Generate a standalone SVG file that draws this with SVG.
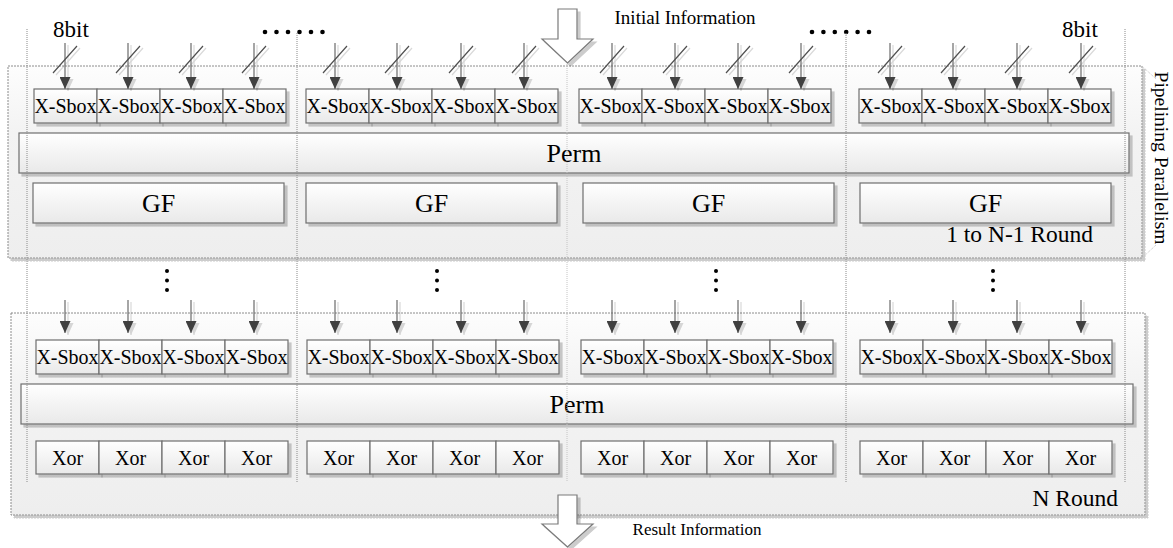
<svg xmlns="http://www.w3.org/2000/svg" width="1173" height="548" viewBox="0 0 1173 548">
  <defs>
    <linearGradient id="boxFill" x1="0" y1="0" x2="0" y2="1">
      <stop offset="0" stop-color="#ffffff"/>
      <stop offset="1" stop-color="#e9e9e9"/>
    </linearGradient>
    <linearGradient id="regionFill" x1="0" y1="0" x2="0" y2="1">
      <stop offset="0" stop-color="#fdfdfd"/>
      <stop offset="0.35" stop-color="#f3f3f3"/>
      <stop offset="1" stop-color="#eeeeee"/>
    </linearGradient>
    <filter id="shadow" x="-5%" y="-5%" width="115%" height="130%">
      <feDropShadow dx="3" dy="3" stdDeviation="0.7" flood-color="#000" flood-opacity="0.2"/>
    </filter>
    <filter id="lineShadow" x="-10%" y="-10%" width="120%" height="130%">
      <feDropShadow dx="3" dy="2" stdDeviation="0.5" flood-color="#000" flood-opacity="0.15"/>
    </filter>
    <marker id="head" viewBox="0 0 12 11" refX="12" refY="5.5" markerWidth="12" markerHeight="11" markerUnits="userSpaceOnUse" orient="auto">
      <path d="M0,0 L12,5.5 L0,11 Z" fill="#404040"/>
    </marker>
  </defs>
  <style>
    .region { fill: url(#regionFill); stroke: #8c8c8c; stroke-width: 1; stroke-dasharray: 2 1; filter: url(#shadow); }
    .box { fill: url(#boxFill); stroke: #6e6e6e; stroke-width: 1.2; filter: url(#shadow); }
    .t { font-family: "Liberation Serif", "Times New Roman", serif; fill: #000; text-anchor: middle; }
    .end { text-anchor: end; }
    .s20 { font-size: 20px; }
    .s26 { font-size: 26px; }
    .guide { stroke: #8a8a8a; stroke-width: 1; stroke-dasharray: 1 1; fill: none; }
    .guide-light { stroke: #c4c4c4; stroke-width: 1; stroke-dasharray: 1 1; fill: none; }
    .wire { stroke: #6a6a6a; stroke-width: 1.2; fill: none; marker-end: url(#head); }
    .slash { stroke: #505050; stroke-width: 1.2; fill: none; }
    .dot { fill: #000; }
    .bigarrow { fill: #ffffff; stroke: #7a7a7a; stroke-width: 1.2; filter: url(#shadow); }
  </style>

  <!-- round containers -->
  <g id="region-rounds">
    <rect class="region" x="8" y="66" width="1134" height="192"/>
    <text class="t end" x="1093" y="242" font-size="23.5">1 to N-1 Round</text>
  </g>
  <g id="region-last">
    <rect class="region" x="11" y="313" width="1134" height="202"/>
    <text class="t end" x="1118" y="506" font-size="23.5">N Round</text>
  </g>

  <!-- pipelining label with bracket -->
  <g id="pipelining">
    <path class="guide-light" d="M1142,66 L1156,79 M1142,258 L1156,245"/>
    <text class="t" font-size="19.5" transform="translate(1155,158) rotate(90)">Pipelining Parallelism</text>
  </g>

  <!-- input / output block arrows -->
  <g id="initial-information">
    <polygon class="bigarrow" points="558,9 577,9 577,39 593,39 567.5,63 542,39 558,39"/>
    <text class="t" x="685" y="24" font-size="19">Initial Information</text>
  </g>
  <g id="result-information">
    <polygon class="bigarrow" points="558,495 577,495 577,524 593,524 567.5,547 542,524 558,524"/>
    <text class="t" x="697" y="535" font-size="17">Result Information</text>
  </g>

  <!-- bit width labels and ellipses -->
  <g id="labels">
    <text class="t" x="71" y="37" font-size="23">8bit</text>
    <text class="t" x="1080" y="37" font-size="23">8bit</text>
    <g class="dot">
      <circle cx="265" cy="32" r="2.3"/><circle cx="276.5" cy="32" r="2.3"/><circle cx="288" cy="32" r="2.3"/>
      <circle cx="299.5" cy="32" r="2.3"/><circle cx="311" cy="32" r="2.3"/><circle cx="322.5" cy="32" r="2.3"/>
      <circle cx="812" cy="32" r="2.3"/><circle cx="823.4" cy="32" r="2.3"/><circle cx="834.8" cy="32" r="2.3"/>
      <circle cx="846.2" cy="32" r="2.3"/><circle cx="857.6" cy="32" r="2.3"/><circle cx="869" cy="32" r="2.3"/>
      <circle cx="167" cy="271" r="2"/><circle cx="167" cy="280.5" r="2"/><circle cx="167" cy="290" r="2"/>
      <circle cx="437" cy="271" r="2"/><circle cx="437" cy="280.5" r="2"/><circle cx="437" cy="290" r="2"/>
      <circle cx="716" cy="271" r="2"/><circle cx="716" cy="280.5" r="2"/><circle cx="716" cy="290" r="2"/>
      <circle cx="993" cy="271" r="2"/><circle cx="993" cy="280.5" r="2"/><circle cx="993" cy="290" r="2"/>
    </g>
  </g>

  <!-- rounds 1 to N-1: S-box layer -->
  <g id="sbox-a1"><rect class="box" x="34" y="89" width="63" height="34"/><text class="t s20" x="65.5" y="113">X-Sbox</text></g>
  <g id="sbox-a2"><rect class="box" x="97" y="89" width="63" height="34"/><text class="t s20" x="128.5" y="113">X-Sbox</text></g>
  <g id="sbox-a3"><rect class="box" x="160" y="89" width="63" height="34"/><text class="t s20" x="191.5" y="113">X-Sbox</text></g>
  <g id="sbox-a4"><rect class="box" x="223" y="89" width="63" height="34"/><text class="t s20" x="254.5" y="113">X-Sbox</text></g>
  <g id="sbox-a5"><rect class="box" x="306" y="89" width="63" height="34"/><text class="t s20" x="337.5" y="113">X-Sbox</text></g>
  <g id="sbox-a6"><rect class="box" x="369" y="89" width="63" height="34"/><text class="t s20" x="400.5" y="113">X-Sbox</text></g>
  <g id="sbox-a7"><rect class="box" x="432" y="89" width="63" height="34"/><text class="t s20" x="463.5" y="113">X-Sbox</text></g>
  <g id="sbox-a8"><rect class="box" x="495" y="89" width="63" height="34"/><text class="t s20" x="526.5" y="113">X-Sbox</text></g>
  <g id="sbox-a9"><rect class="box" x="579" y="89" width="63" height="34"/><text class="t s20" x="610.5" y="113">X-Sbox</text></g>
  <g id="sbox-a10"><rect class="box" x="642" y="89" width="63" height="34"/><text class="t s20" x="673.5" y="113">X-Sbox</text></g>
  <g id="sbox-a11"><rect class="box" x="705" y="89" width="63" height="34"/><text class="t s20" x="736.5" y="113">X-Sbox</text></g>
  <g id="sbox-a12"><rect class="box" x="768" y="89" width="63" height="34"/><text class="t s20" x="799.5" y="113">X-Sbox</text></g>
  <g id="sbox-a13"><rect class="box" x="859" y="89" width="63" height="34"/><text class="t s20" x="890.5" y="113">X-Sbox</text></g>
  <g id="sbox-a14"><rect class="box" x="922" y="89" width="63" height="34"/><text class="t s20" x="953.5" y="113">X-Sbox</text></g>
  <g id="sbox-a15"><rect class="box" x="985" y="89" width="63" height="34"/><text class="t s20" x="1016.5" y="113">X-Sbox</text></g>
  <g id="sbox-a16"><rect class="box" x="1048" y="89" width="63" height="34"/><text class="t s20" x="1079.5" y="113">X-Sbox</text></g>

  <!-- rounds 1 to N-1: permutation and GF layers -->
  <g id="perm-a"><rect class="box" x="19" y="133" width="1110" height="40"/><text class="t s26" x="574" y="162">Perm</text></g>
  <g id="gf-1"><rect class="box" x="33" y="183" width="251" height="40"/><text class="t s26" x="158.5" y="212">GF</text></g>
  <g id="gf-2"><rect class="box" x="306" y="183" width="251" height="40"/><text class="t s26" x="431.5" y="212">GF</text></g>
  <g id="gf-3"><rect class="box" x="583" y="183" width="251" height="40"/><text class="t s26" x="708.5" y="212">GF</text></g>
  <g id="gf-4"><rect class="box" x="860" y="183" width="251" height="40"/><text class="t s26" x="985.5" y="212">GF</text></g>

  <!-- round N: S-box layer -->
  <g id="sbox-b1"><rect class="box" x="36" y="340" width="63" height="34"/><text class="t s20" x="67.5" y="364">X-Sbox</text></g>
  <g id="sbox-b2"><rect class="box" x="99" y="340" width="63" height="34"/><text class="t s20" x="130.5" y="364">X-Sbox</text></g>
  <g id="sbox-b3"><rect class="box" x="162" y="340" width="63" height="34"/><text class="t s20" x="193.5" y="364">X-Sbox</text></g>
  <g id="sbox-b4"><rect class="box" x="225" y="340" width="63" height="34"/><text class="t s20" x="256.5" y="364">X-Sbox</text></g>
  <g id="sbox-b5"><rect class="box" x="307" y="340" width="63" height="34"/><text class="t s20" x="338.5" y="364">X-Sbox</text></g>
  <g id="sbox-b6"><rect class="box" x="370" y="340" width="63" height="34"/><text class="t s20" x="401.5" y="364">X-Sbox</text></g>
  <g id="sbox-b7"><rect class="box" x="433" y="340" width="63" height="34"/><text class="t s20" x="464.5" y="364">X-Sbox</text></g>
  <g id="sbox-b8"><rect class="box" x="496" y="340" width="63" height="34"/><text class="t s20" x="527.5" y="364">X-Sbox</text></g>
  <g id="sbox-b9"><rect class="box" x="581" y="340" width="63" height="34"/><text class="t s20" x="612.5" y="364">X-Sbox</text></g>
  <g id="sbox-b10"><rect class="box" x="644" y="340" width="63" height="34"/><text class="t s20" x="675.5" y="364">X-Sbox</text></g>
  <g id="sbox-b11"><rect class="box" x="707" y="340" width="63" height="34"/><text class="t s20" x="738.5" y="364">X-Sbox</text></g>
  <g id="sbox-b12"><rect class="box" x="770" y="340" width="63" height="34"/><text class="t s20" x="801.5" y="364">X-Sbox</text></g>
  <g id="sbox-b13"><rect class="box" x="860" y="340" width="63" height="34"/><text class="t s20" x="891.5" y="364">X-Sbox</text></g>
  <g id="sbox-b14"><rect class="box" x="923" y="340" width="63" height="34"/><text class="t s20" x="954.5" y="364">X-Sbox</text></g>
  <g id="sbox-b15"><rect class="box" x="986" y="340" width="63" height="34"/><text class="t s20" x="1017.5" y="364">X-Sbox</text></g>
  <g id="sbox-b16"><rect class="box" x="1049" y="340" width="63" height="34"/><text class="t s20" x="1080.5" y="364">X-Sbox</text></g>

  <!-- round N: permutation and XOR layers -->
  <g id="perm-b"><rect class="box" x="21" y="384" width="1112" height="40"/><text class="t s26" x="577" y="413">Perm</text></g>
  <g id="xor-1"><rect class="box" x="36" y="441" width="63" height="33"/><text class="t s20" x="67.5" y="465">Xor</text></g>
  <g id="xor-2"><rect class="box" x="99" y="441" width="63" height="33"/><text class="t s20" x="130.5" y="465">Xor</text></g>
  <g id="xor-3"><rect class="box" x="162" y="441" width="63" height="33"/><text class="t s20" x="193.5" y="465">Xor</text></g>
  <g id="xor-4"><rect class="box" x="225" y="441" width="63" height="33"/><text class="t s20" x="256.5" y="465">Xor</text></g>
  <g id="xor-5"><rect class="box" x="307" y="441" width="63" height="33"/><text class="t s20" x="338.5" y="465">Xor</text></g>
  <g id="xor-6"><rect class="box" x="370" y="441" width="63" height="33"/><text class="t s20" x="401.5" y="465">Xor</text></g>
  <g id="xor-7"><rect class="box" x="433" y="441" width="63" height="33"/><text class="t s20" x="464.5" y="465">Xor</text></g>
  <g id="xor-8"><rect class="box" x="496" y="441" width="63" height="33"/><text class="t s20" x="527.5" y="465">Xor</text></g>
  <g id="xor-9"><rect class="box" x="581" y="441" width="63" height="33"/><text class="t s20" x="612.5" y="465">Xor</text></g>
  <g id="xor-10"><rect class="box" x="644" y="441" width="63" height="33"/><text class="t s20" x="675.5" y="465">Xor</text></g>
  <g id="xor-11"><rect class="box" x="707" y="441" width="63" height="33"/><text class="t s20" x="738.5" y="465">Xor</text></g>
  <g id="xor-12"><rect class="box" x="770" y="441" width="63" height="33"/><text class="t s20" x="801.5" y="465">Xor</text></g>
  <g id="xor-13"><rect class="box" x="860" y="441" width="63" height="33"/><text class="t s20" x="891.5" y="465">Xor</text></g>
  <g id="xor-14"><rect class="box" x="923" y="441" width="63" height="33"/><text class="t s20" x="954.5" y="465">Xor</text></g>
  <g id="xor-15"><rect class="box" x="986" y="441" width="63" height="33"/><text class="t s20" x="1017.5" y="465">Xor</text></g>
  <g id="xor-16"><rect class="box" x="1049" y="441" width="63" height="33"/><text class="t s20" x="1080.5" y="465">Xor</text></g>

  <!-- connectors: 8-bit inputs to the first S-box layer, and inputs to round N -->
  <g id="connectors" filter="url(#lineShadow)">
    <path class="wire" d="M65,43V89"/><path class="wire" d="M128,43V89"/><path class="wire" d="M191,43V89"/><path class="wire" d="M254,43V89"/>
    <path class="wire" d="M335,43V89"/><path class="wire" d="M397,43V89"/><path class="wire" d="M461,43V89"/><path class="wire" d="M524,43V89"/>
    <path class="wire" d="M612,43V89"/><path class="wire" d="M675,43V89"/><path class="wire" d="M738,43V89"/><path class="wire" d="M801,43V89"/>
    <path class="wire" d="M890,43V89"/><path class="wire" d="M953,43V89"/><path class="wire" d="M1017,43V89"/><path class="wire" d="M1081,43V89"/>
    <path class="slash" d="M53,73L77,46 M116,73L140,46 M179,73L203,46 M242,73L266,46 M323,73L347,46 M385,73L409,46 M449,73L473,46 M512,73L536,46 M600,73L624,46 M663,73L687,46 M726,73L750,46 M789,73L813,46 M878,73L902,46 M941,73L965,46 M1005,73L1029,46 M1069,73L1093,46"/>
    <path class="wire" d="M65,300V333"/><path class="wire" d="M128,300V333"/><path class="wire" d="M191,300V333"/><path class="wire" d="M254,300V333"/>
    <path class="wire" d="M335,300V333"/><path class="wire" d="M397,300V333"/><path class="wire" d="M461,300V333"/><path class="wire" d="M524,300V333"/>
    <path class="wire" d="M612,300V333"/><path class="wire" d="M675,300V333"/><path class="wire" d="M738,300V333"/><path class="wire" d="M801,300V333"/>
    <path class="wire" d="M890,300V333"/><path class="wire" d="M953,300V333"/><path class="wire" d="M1017,300V333"/><path class="wire" d="M1081,300V333"/>
  </g>

  <!-- lane guides -->
  <g id="lane-guides">
    <path class="guide" d="M27,29V482 M297,33V482 M846,33V482 M1125,29V482"/>
    <path class="guide-light" d="M567,64V482"/>
  </g>
</svg>
